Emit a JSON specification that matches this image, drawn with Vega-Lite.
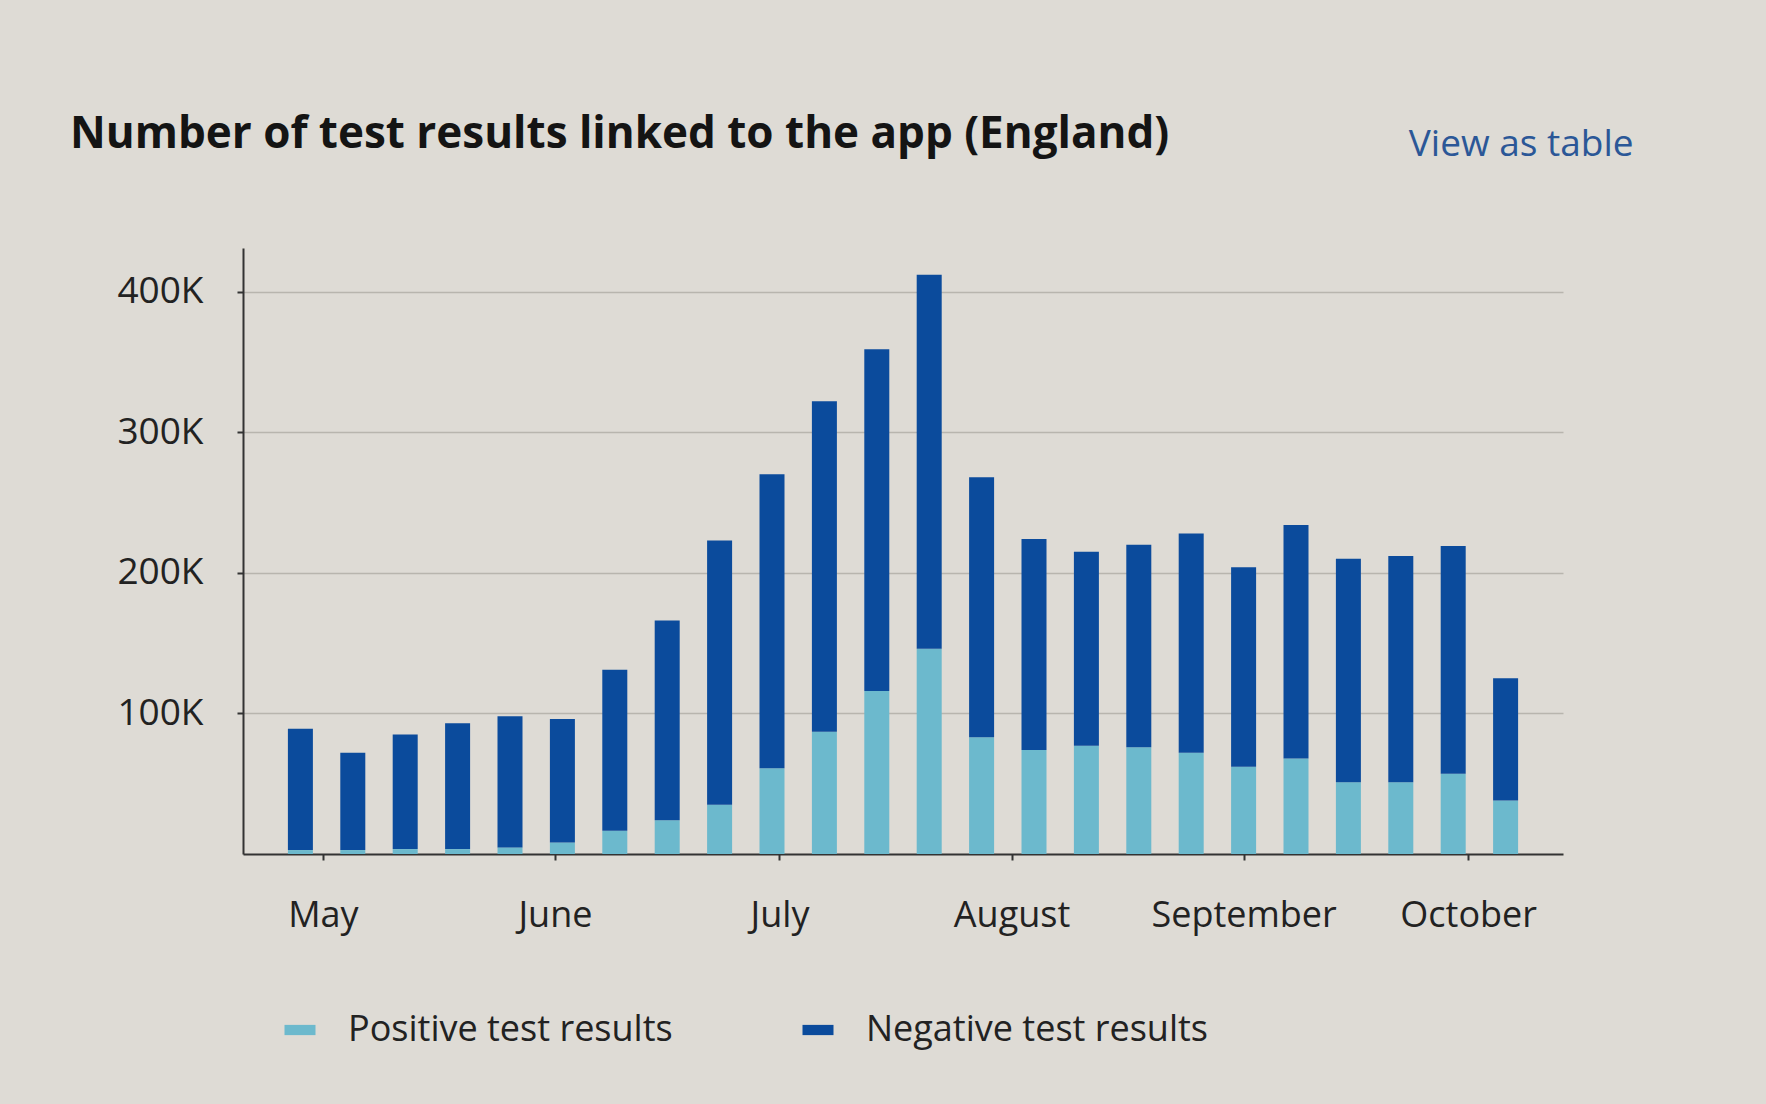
{
  "$schema": "https://vega.github.io/schema/vega-lite/v6.json",
  "width": 1320,
  "height": 606,
  "autosize": {"type": "none"},
  "padding": {"left": 243, "top": 248, "right": 203, "bottom": 250},
  "background": "#dedbd5",
  "config": {"font": "Open Sans", "view": {"stroke": null}},
  "title": {
    "text": "Number of test results linked to the app (England)",
    "anchor": "start",
    "frame": "group",
    "dx": -173,
    "dy": 36,
    "fontSize": 44,
    "fontWeight": "bold",
    "color": "#141414",
    "font": "Open Sans"
  },
  "data": {
    "values": [
      {"week": "2021-04-28", "result": "Positive test results", "count": 2800},
      {"week": "2021-04-28", "result": "Negative test results", "count": 86200},
      {"week": "2021-05-05", "result": "Positive test results", "count": 2800},
      {"week": "2021-05-05", "result": "Negative test results", "count": 69200},
      {"week": "2021-05-12", "result": "Positive test results", "count": 3500},
      {"week": "2021-05-12", "result": "Negative test results", "count": 81500},
      {"week": "2021-05-19", "result": "Positive test results", "count": 3500},
      {"week": "2021-05-19", "result": "Negative test results", "count": 89500},
      {"week": "2021-05-26", "result": "Positive test results", "count": 4700},
      {"week": "2021-05-26", "result": "Negative test results", "count": 93300},
      {"week": "2021-06-02", "result": "Positive test results", "count": 8200},
      {"week": "2021-06-02", "result": "Negative test results", "count": 87800},
      {"week": "2021-06-09", "result": "Positive test results", "count": 16500},
      {"week": "2021-06-09", "result": "Negative test results", "count": 114500},
      {"week": "2021-06-16", "result": "Positive test results", "count": 24000},
      {"week": "2021-06-16", "result": "Negative test results", "count": 142000},
      {"week": "2021-06-23", "result": "Positive test results", "count": 35000},
      {"week": "2021-06-23", "result": "Negative test results", "count": 188000},
      {"week": "2021-06-30", "result": "Positive test results", "count": 61000},
      {"week": "2021-06-30", "result": "Negative test results", "count": 209000},
      {"week": "2021-07-07", "result": "Positive test results", "count": 87000},
      {"week": "2021-07-07", "result": "Negative test results", "count": 235000},
      {"week": "2021-07-14", "result": "Positive test results", "count": 116000},
      {"week": "2021-07-14", "result": "Negative test results", "count": 243000},
      {"week": "2021-07-21", "result": "Positive test results", "count": 146000},
      {"week": "2021-07-21", "result": "Negative test results", "count": 266000},
      {"week": "2021-07-28", "result": "Positive test results", "count": 83000},
      {"week": "2021-07-28", "result": "Negative test results", "count": 185000},
      {"week": "2021-08-04", "result": "Positive test results", "count": 74000},
      {"week": "2021-08-04", "result": "Negative test results", "count": 150000},
      {"week": "2021-08-11", "result": "Positive test results", "count": 77000},
      {"week": "2021-08-11", "result": "Negative test results", "count": 138000},
      {"week": "2021-08-18", "result": "Positive test results", "count": 76000},
      {"week": "2021-08-18", "result": "Negative test results", "count": 144000},
      {"week": "2021-08-25", "result": "Positive test results", "count": 72000},
      {"week": "2021-08-25", "result": "Negative test results", "count": 156000},
      {"week": "2021-09-01", "result": "Positive test results", "count": 62000},
      {"week": "2021-09-01", "result": "Negative test results", "count": 142000},
      {"week": "2021-09-08", "result": "Positive test results", "count": 68000},
      {"week": "2021-09-08", "result": "Negative test results", "count": 166000},
      {"week": "2021-09-15", "result": "Positive test results", "count": 51000},
      {"week": "2021-09-15", "result": "Negative test results", "count": 159000},
      {"week": "2021-09-22", "result": "Positive test results", "count": 51000},
      {"week": "2021-09-22", "result": "Negative test results", "count": 161000},
      {"week": "2021-09-29", "result": "Positive test results", "count": 57000},
      {"week": "2021-09-29", "result": "Negative test results", "count": 162000},
      {"week": "2021-10-06", "result": "Positive test results", "count": 38000},
      {"week": "2021-10-06", "result": "Negative test results", "count": 87000}
    ]
  },
  "mark": {"type": "bar", "width": 25},
  "encoding": {
    "x": {
      "field": "week",
      "type": "temporal",
      "scale": {
        "type": "utc",
        "nice": false,
        "domain": [
          {"year": 2021, "month": 4, "date": 21, "utc": true},
          {"year": 2021, "month": 10, "date": 13, "utc": true}
        ]
      },
      "axis": {
        "title": null,
        "grid": false,
        "values": [
          {"year": 2021, "month": 5, "date": 1, "utc": true},
          {"year": 2021, "month": 6, "date": 1, "utc": true},
          {"year": 2021, "month": 7, "date": 1, "utc": true},
          {"year": 2021, "month": 8, "date": 1, "utc": true},
          {"year": 2021, "month": 9, "date": 1, "utc": true},
          {"year": 2021, "month": 10, "date": 1, "utc": true}
        ],
        "format": "%B",
        "labelFontSize": 36,
        "labelColor": "#222222",
        "labelPadding": 38,
        "labelLimit": 400,
        "labelFlush": false,
        "labelOverlap": false,
        "tickSize": 6,
        "tickWidth": 2,
        "tickColor": "#333333",
        "domainColor": "#333333",
        "domainWidth": 2
      }
    },
    "y": {
      "field": "count",
      "type": "quantitative",
      "stack": "zero",
      "scale": {"domain": [0, 431000], "nice": false},
      "axis": {
        "title": "View as table",
        "titleAngle": 0,
        "titleAlign": "right",
        "titleBaseline": "alphabetic",
        "titleX": 1390,
        "titleY": -93,
        "titleFontSize": 37,
        "titleFontWeight": "normal",
        "titleColor": "#2b5797",
        "values": [100000, 200000, 300000, 400000],
        "labelExpr": "(datum.value / 1000) + 'K'",
        "labelFontSize": 37,
        "labelColor": "#222222",
        "labelPadding": 34,
        "tickSize": 6,
        "tickWidth": 2,
        "tickColor": "#333333",
        "domainColor": "#333333",
        "domainWidth": 2,
        "gridColor": "#b8b5ae",
        "gridWidth": 1.5
      }
    },
    "color": {
      "field": "result",
      "type": "nominal",
      "sort": ["Positive test results", "Negative test results"],
      "scale": {
        "domain": ["Positive test results", "Negative test results"],
        "range": ["#6cb9cd", "#0b4b9c"]
      },
      "legend": {
        "title": null,
        "orient": "none",
        "legendX": 39,
        "legendY": 764,
        "direction": "horizontal",
        "columns": 2,
        "gridAlign": "all",
        "columnPadding": 110,
        "padding": 0,
        "labelFontSize": 36,
        "labelColor": "#222222",
        "labelOffset": 30,
        "labelLimit": 500,
        "symbolType": "M-1,-0.33H1V0.33H-1Z",
        "symbolSize": 961,
        "symbolStrokeWidth": 0
      }
    }
  }
}
